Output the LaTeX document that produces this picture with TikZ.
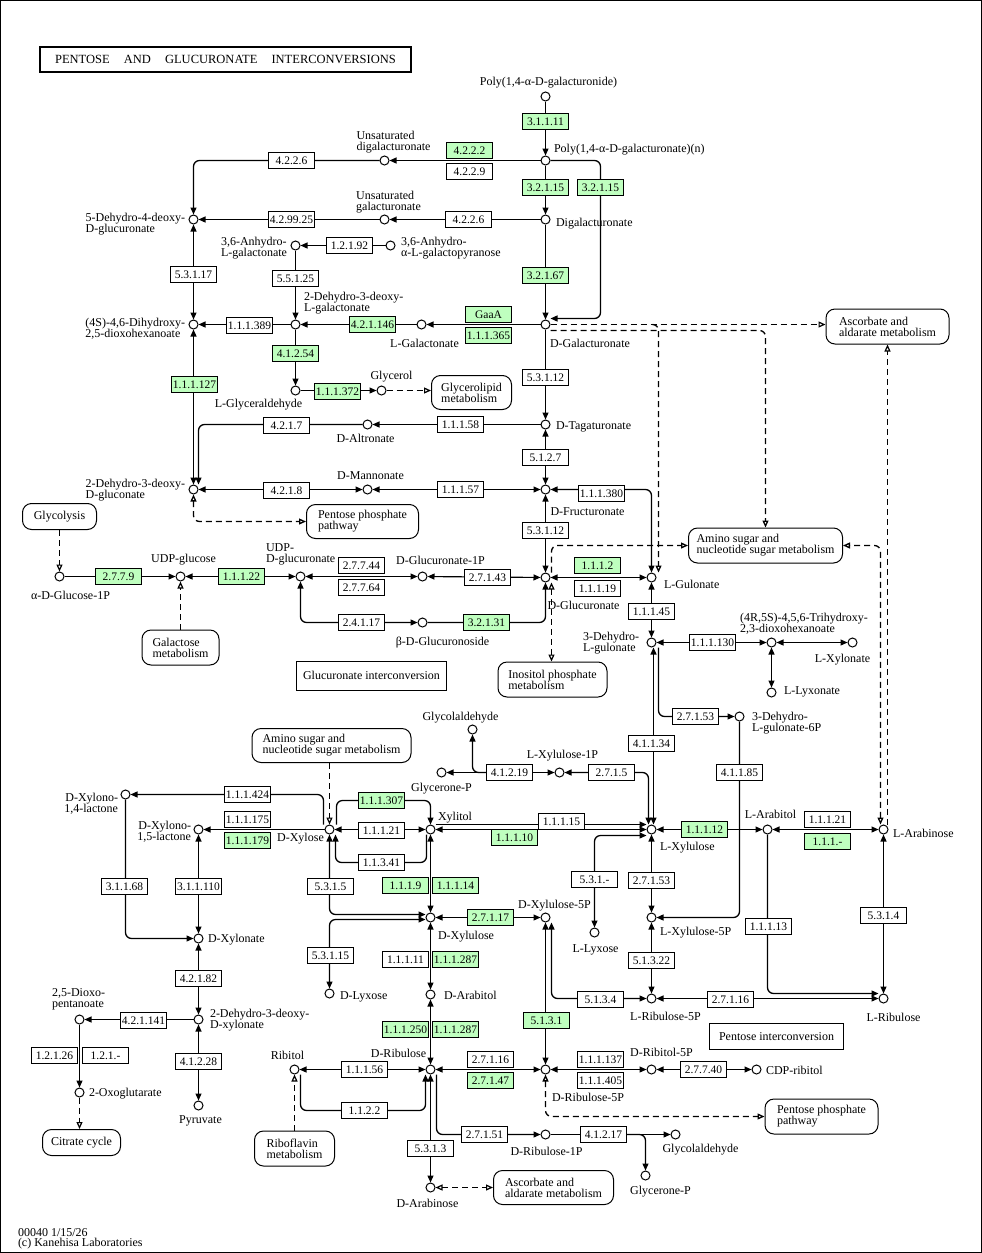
\documentclass[tikz,border=0pt]{standalone}
\usepackage{fontspec}
\setmainfont{Liberation Serif}
\usetikzlibrary{arrows.meta,backgrounds}
\definecolor{ecgreen}{HTML}{BFFFBF}
\newcommand\kglab{\fontsize{12}{11}\selectfont}
\newcommand\kgec{\fontsize{11.5}{11}\selectfont}
\begin{document}
\begin{tikzpicture}[x=1pt,y=-1pt,line width=1pt,
  >={Triangle[length=7pt,width=6pt]},
  cpd/.style={circle,draw,fill=white,minimum size=9pt,inner sep=0pt},
  ec/.style={draw,fill=white,minimum width=46pt,minimum height=16pt,inner sep=0pt,font=\kgec,line width=0.9pt},
  ecg/.style={ec,fill=ecgreen},
  lab/.style={font=\kglab,inner sep=0pt,align=left},
  mbox/.style={draw,rounded corners=9pt,fill=white,font=\kglab,align=left,inner sep=0pt},
  tbox/.style={draw,fill=white,font=\kglab,inner sep=0pt},
  fw/.style={->,line width=1.15pt},
  bi/.style={<->,line width=1.15pt},
  bw/.style={<-,line width=1.15pt},
  dsh/.style={dash pattern=on 6pt off 4pt,line width=1.2pt},
  dfw/.style={dsh,-{Triangle[open,length=7pt,width=6pt]}},
  dbi/.style={dsh,{Triangle[open,length=7pt,width=6pt]}-{Triangle[open,length=7pt,width=6pt]}},
  rc/.style={rounded corners=6pt,line width=1.3pt}]
\useasboundingbox (0,0) rectangle (982,1253);
\draw (0.5,0.5) rectangle (981.5,1252.5);
\begin{scope}[shift={(0.5,0.5)}]
% ---------- compounds ----------
\node[cpd] (pgn) at (545,96) {};
\node[cpd] (pn) at (545,160) {};
\node[cpd] (dga) at (545,219) {};
\node[cpd] (dgal) at (545,324) {};
\node[cpd] (udg) at (384,160) {};
\node[cpd] (uga) at (384,219) {};
\node[cpd] (dhg) at (193,219) {};
\node[cpd] (anhg) at (295,245) {};
\node[cpd] (anhp) at (390,245) {};
\node[cpd] (ddlg) at (295,324) {};
\node[cpd] (lgal) at (421,324) {};
\node[cpd] (dhdo) at (193,324) {};
\node[cpd] (lgla) at (295,390) {};
\node[cpd] (gly) at (381,390) {};
\node[cpd] (dalt) at (367,424) {};
\node[cpd] (dtag) at (545,424) {};
\node[cpd] (ddgc) at (193,489) {};
\node[cpd] (dman) at (367,489) {};
\node[cpd] (dfru) at (545,489) {};
\node[cpd] (dglc) at (545,577) {};
\node[cpd] (agp) at (59,576) {};
\node[cpd] (udpg) at (180,576) {};
\node[cpd] (udpga) at (300,576) {};
\node[cpd] (dg1p) at (422,576) {};
\node[cpd] (bdg) at (422,622) {};
\node[cpd] (lgul) at (651,577) {};
\node[cpd] (dhlg) at (651,642) {};
\node[cpd] (thd) at (771,642) {};
\node[cpd] (lxyn) at (852,642) {};
\node[cpd] (llyx) at (771,692) {};
\node[cpd] (dhg6p) at (739,716) {};
\node[cpd] (glyald1) at (472,729) {};
\node[cpd] (glp1) at (441,772) {};
\node[cpd] (lx1p) at (559,772) {};
\node[cpd] (dxyl) at (329,829) {};
\node[cpd] (xyl) at (430,829) {};
\node[cpd] (lxu) at (651,829) {};
\node[cpd] (lara) at (767,829) {};
\node[cpd] (larb) at (883,829) {};
\node[cpd] (dx14) at (125,794) {};
\node[cpd] (dx15) at (198,829) {};
\node[cpd] (dxn) at (198,938) {};
\node[cpd] (dxu) at (430,917) {};
\node[cpd] (dxu5p) at (545,917) {};
\node[cpd] (llyxo) at (594,932) {};
\node[cpd] (lxu5p) at (651,917) {};
\node[cpd] (dlyx) at (329,993) {};
\node[cpd] (dara) at (430,994) {};
\node[cpd] (lru5p) at (651,998) {};
\node[cpd] (lrib) at (883,998) {};
\node[cpd] (ddx) at (198,1019) {};
\node[cpd] (dop) at (79,1019) {};
\node[cpd] (oxg) at (79,1092) {};
\node[cpd] (pyr) at (198,1105) {};
\node[cpd] (drib) at (430,1069) {};
\node[cpd] (rbt) at (294,1069) {};
\node[cpd] (dru5p) at (545,1069) {};
\node[cpd] (drt5p) at (651,1069) {};
\node[cpd] (cdp) at (756,1069) {};
\node[cpd] (dru1p) at (545,1134) {};
\node[cpd] (glyald2) at (675,1134) {};
\node[cpd] (glp2) at (645,1175) {};
\node[cpd] (darab) at (430,1187) {};
\coordinate (dbr) at (652,324);

% ---------- map boxes ----------
\node[mbox,minimum width=74pt,minimum height=26pt] (glyc) at (59,516) {Glycolysis};
\node[mbox,minimum width=77pt,minimum height=35pt] (galm) at (180,647) {Galactose\\metabolism};
\node[mbox,minimum width=112pt,minimum height=34pt] (ppp1) at (362,521) {Pentose phosphate\\pathway};
\node[mbox,minimum width=80pt,minimum height=34pt] (glm) at (471,392) {Glycerolipid\\metabolism};
\node[mbox,minimum width=123pt,minimum height=35pt] (asc1) at (887,326) {Ascorbate and\\aldarate metabolism};
\node[mbox,minimum width=154pt,minimum height=35pt] (amn1) at (765,545) {Amino sugar and\\nucleotide sugar metabolism};
\node[mbox,minimum width=109pt,minimum height=35pt] (inos) at (552,679) {Inositol phosphate\\metabolism};
\node[mbox,minimum width=159pt,minimum height=34pt] (amn2) at (331,745) {Amino sugar and\\nucleotide sugar metabolism};
\node[mbox,minimum width=78pt,minimum height=26pt] (citr) at (81,1142) {Citrate cycle};
\node[mbox,minimum width=80pt,minimum height=35pt] (ribo) at (294,1148) {Riboflavin\\metabolism};
\node[mbox,minimum width=120pt,minimum height=34pt] (asc2) at (553,1187) {Ascorbate and\\aldarate metabolism};
\node[mbox,minimum width=113pt,minimum height=35pt] (ppp2) at (821,1116) {Pentose phosphate\\pathway};
\node[draw,line width=1.8pt,minimum width=371pt,minimum height=25pt,inner sep=0pt,font=\fontsize{12.5}{12}\selectfont] (title) at (225,59) {PENTOSE\hspace{11pt} AND\hspace{11pt} GLUCURONATE\hspace{11pt} INTERCONVERSIONS};
\node[tbox,minimum width=150pt,minimum height=29pt] (gicb) at (371,675) {Glucuronate interconversion};
\node[tbox,minimum width=134pt,minimum height=26pt] (picb) at (776,1036) {Pentose interconversion};

% ---------- EC boxes ----------
\node[ecg] (e31111) at (545,121) {3.1.1.11};
\node[ecg] (e4222) at (469,150) {4.2.2.2};
\node[ec] (e4229) at (469,171) {4.2.2.9};
\node[ecg] (e3215a) at (545,187) {3.2.1.15};
\node[ecg] (e3215b) at (600,187) {3.2.1.15};
\node[ec] (e4226a) at (291,160) {4.2.2.6};
\node[ec] (e4226b) at (468,219) {4.2.2.6};
\node[ec] (e429925) at (291,219) {4.2.99.25};
\node[ec] (e12192) at (349,245) {1.2.1.92};
\node[ecg] (e32167) at (545,275) {3.2.1.67};
\node[ec] (e53117) at (193,274) {5.3.1.17};
\node[ec] (e55125) at (295,278) {5.5.1.25};
\node[ecg] (egaa) at (488,314) {GaaA};
\node[ecg] (e111365) at (488,335) {1.1.1.365};
\node[ecg] (e421146) at (372,324) {4.2.1.146};
\node[ec] (e111389) at (249,325) {1.1.1.389};
\node[ecg] (e41254) at (295,353) {4.1.2.54};
\node[ec] (e53112a) at (545,377) {5.3.1.12};
\node[ecg] (e111127) at (194,384) {1.1.1.127};
\node[ecg] (e111372) at (337,391) {1.1.1.372};
\node[ec] (e4217) at (286,425) {4.2.1.7};
\node[ec] (e11158) at (460,424) {1.1.1.58};
\node[ec] (e5127) at (545,457) {5.1.2.7};
\node[ec] (e4218) at (286,490) {4.2.1.8};
\node[ec] (e11157) at (460,489) {1.1.1.57};
\node[ec] (e111380) at (601,493) {1.1.1.380};
\node[ec] (e53112b) at (545,530) {5.3.1.12};
\node[ecg] (e2779) at (118,576) {2.7.7.9};
\node[ecg] (e11122) at (241,576) {1.1.1.22};
\node[ec] (e27744) at (361,565) {2.7.7.44};
\node[ec] (e27764) at (361,587) {2.7.7.64};
\node[ec] (e27143) at (487,577) {2.7.1.43};
\node[ec] (e24117) at (361,622) {2.4.1.17};
\node[ecg] (e32131) at (486,622) {3.2.1.31};
\node[ecg] (e1112) at (597,565) {1.1.1.2};
\node[ec] (e11119) at (597,588) {1.1.1.19};
\node[ec] (e11145) at (651,611) {1.1.1.45};
\node[ec] (e111130) at (712,642) {1.1.1.130};
\node[ec] (e27153a) at (695,716) {2.7.1.53};
\node[ec] (e41134) at (651,743) {4.1.1.34};
\node[ec] (e41185) at (739,772) {4.1.1.85};
\node[ec] (e41219) at (509,772) {4.1.2.19};
\node[ec] (e2715) at (611,772) {2.7.1.5};
\node[ec] (e111424) at (247,794) {1.1.1.424};
\node[ec] (e111175) at (247,819) {1.1.1.175};
\node[ecg] (e111179) at (247,840) {1.1.1.179};
\node[ecg] (e111307) at (381,800) {1.1.1.307};
\node[ec] (e11121a) at (381,830) {1.1.1.21};
\node[ec] (e11341) at (381,862) {1.1.3.41};
\node[ec] (e11115) at (561,821) {1.1.1.15};
\node[ecg] (e11110) at (514,837) {1.1.1.10};
\node[ecg] (e11112) at (704,829) {1.1.1.12};
\node[ec] (e11121b) at (827,819) {1.1.1.21};
\node[ecg] (e111d) at (827,841) {1.1.1.-};
\node[ec] (e31168) at (124,886) {3.1.1.68};
\node[ec] (e311110) at (198,886) {3.1.1.110};
\node[ec] (e5315) at (330,886) {5.3.1.5};
\node[ecg] (e1119) at (405,885) {1.1.1.9};
\node[ecg] (e11114) at (455,885) {1.1.1.14};
\node[ec] (e531d) at (594,879) {5.3.1.-};
\node[ec] (e27153b) at (651,880) {2.7.1.53};
\node[ecg] (e27117) at (490,917) {2.7.1.17};
\node[ec] (e11113) at (768,926) {1.1.1.13};
\node[ec] (e5314) at (883,915) {5.3.1.4};
\node[ec] (e53115) at (330,955) {5.3.1.15};
\node[ec] (e11111) at (405,959) {1.1.1.11};
\node[ecg] (e111287a) at (455,959) {1.1.1.287};
\node[ec] (e51322) at (651,960) {5.1.3.22};
\node[ec] (e42182) at (198,978) {4.2.1.82};
\node[ec] (e5134) at (600,999) {5.1.3.4};
\node[ec] (e27116a) at (730,999) {2.7.1.16};
\node[ec] (e421141) at (143,1020) {4.2.1.141};
\node[ecg] (e5131) at (546,1020) {5.1.3.1};
\node[ecg] (e111250) at (405,1029) {1.1.1.250};
\node[ecg] (e111287b) at (455,1029) {1.1.1.287};
\node[ec] (e12126) at (54,1055) {1.2.1.26};
\node[ec] (e121d) at (105,1055) {1.2.1.-};
\node[ec] (e27116b) at (490,1059) {2.7.1.16};
\node[ecg] (e27147) at (490,1080) {2.7.1.47};
\node[ec] (e111137) at (600,1059) {1.1.1.137};
\node[ec] (e111405) at (600,1080) {1.1.1.405};
\node[ec] (e27740) at (703,1069) {2.7.7.40};
\node[ec] (e41228) at (198,1061) {4.1.2.28};
\node[ec] (e11156) at (364,1069) {1.1.1.56};
\node[ec] (e1122) at (364,1110) {1.1.2.2};
\node[ec] (e27151) at (484,1134) {2.7.1.51};
\node[ec] (e41217) at (603,1134) {4.1.2.17};
\node[ec] (e5313) at (430,1148) {5.3.1.3};

% ---------- labels ----------
\node[lab] (t1) at (548,82) {Poly(1,4-α-D-galacturonide)};
\node[lab,anchor=west] (t2) at (553,149) {Poly(1,4-α-D-galacturonate)(n)};
\node[lab] (t3) at (393,142) {Unsaturated\\digalacturonate};
\node[lab] (t4) at (388,202) {Unsaturated\\galacturonate};
\node[lab,anchor=west] (t5) at (555,223) {Digalacturonate};
\node[lab,anchor=east] (t6) at (185,224) {5-Dehydro-4-deoxy-\\D-glucuronate};
\node[lab,anchor=east] (t7) at (287,248) {3,6-Anhydro-\\L-galactonate};
\node[lab,anchor=west] (t8) at (400,248) {3,6-Anhydro-\\α-L-galactopyranose};
\node[lab,anchor=west] (t9) at (303,303) {2-Dehydro-3-deoxy-\\L-galactonate};
\node[lab,anchor=east] (t10) at (185,328) {(4S)-4,6-Dihydroxy-\\2,5-dioxohexanoate};
\node[lab] (t11) at (424,343) {L-Galactonate};
\node[lab,anchor=west] (t12) at (549,343) {D-Galacturonate};
\node[lab] (t13) at (258,404) {L-Glyceraldehyde};
\node[lab] (t14) at (391,376) {Glycerol};
\node[lab] (t15) at (365,438) {D-Altronate};
\node[lab,anchor=west] (t16) at (555,426) {D-Tagaturonate};
\node[lab] (t17) at (370,475) {D-Mannonate};
\node[lab,anchor=east] (t18) at (185,490) {2-Dehydro-3-deoxy-\\D-gluconate};
\node[lab] (t19) at (587,511) {D-Fructuronate};
\node[lab] (t20) at (183,559) {UDP-glucose};
\node[lab,anchor=west] (t21) at (265,554) {UDP-\\D-glucuronate};
\node[lab] (t22) at (440,560) {D-Glucuronate-1P};
\node[lab] (t23) at (70,595) {α-D-Glucose-1P};
\node[lab] (t24) at (442,642) {β-D-Glucuronoside};
\node[lab] (t25) at (583,605) {D-Glucuronate};
\node[lab,anchor=west] (t26) at (663,584) {L-Gulonate};
\node[lab,anchor=east] (t27) at (639,643) {3-Dehydro-\\L-gulonate};
\node[lab,anchor=west] (t28) at (739,623) {(4R,5S)-4,5,6-Trihydroxy-\\2,3-dioxohexanoate};
\node[lab] (t29) at (842,659) {L-Xylonate};
\node[lab,anchor=west] (t30) at (783,691) {L-Lyxonate};
\node[lab,anchor=west] (t31) at (751,723) {3-Dehydro-\\L-gulonate-6P};
\node[lab] (t32) at (460,717) {Glycolaldehyde};
\node[lab] (t33) at (562,755) {L-Xylulose-1P};
\node[lab] (t34) at (441,788) {Glycerone-P};
\node[lab,anchor=east,align=right] (t35) at (118,803) {D-Xylono-\\1,4-lactone};
\node[lab,anchor=east,align=right] (t36) at (191,831) {D-Xylono-\\1,5-lactone};
\node[lab] (t37) at (300,838) {D-Xylose};
\node[lab,anchor=west] (t38) at (437,817) {Xylitol};
\node[lab,anchor=west] (t39) at (659,847) {L-Xylulose};
\node[lab] (t40) at (770,814) {L-Arabitol};
\node[lab,anchor=west] (t41) at (892,833) {L-Arabinose};
\node[lab,anchor=west] (t42) at (207,939) {D-Xylonate};
\node[lab,anchor=west] (t43) at (437,936) {D-Xylulose};
\node[lab] (t44) at (554,905) {D-Xylulose-5P};
\node[lab] (t45) at (595,949) {L-Lyxose};
\node[lab,anchor=west] (t46) at (659,932) {L-Xylulose-5P};
\node[lab,anchor=west] (t47) at (339,996) {D-Lyxose};
\node[lab,anchor=west] (t48) at (443,995) {D-Arabitol};
\node[lab] (t49) at (665,1016) {L-Ribulose-5P};
\node[lab] (t50) at (893,1017) {L-Ribulose};
\node[lab] (t51) at (78,999) {2,5-Dioxo-\\pentanoate};
\node[lab,anchor=west] (t52) at (209,1020) {2-Dehydro-3-deoxy-\\D-xylonate};
\node[lab,anchor=west] (t53) at (88,1093) {2-Oxoglutarate};
\node[lab] (t54) at (200,1120) {Pyruvate};
\node[lab] (t55) at (287,1055) {Ribitol};
\node[lab] (t56) at (398,1053) {D-Ribulose};
\node[lab] (t57) at (661,1052) {D-Ribitol-5P};
\node[lab,anchor=west] (t58) at (765,1070) {CDP-ribitol};
\node[lab,anchor=west] (t59) at (551,1097) {D-Ribulose-5P};
\node[lab] (t60) at (546,1151) {D-Ribulose-1P};
\node[lab] (t61) at (700,1149) {Glycolaldehyde};
\node[lab] (t62) at (660,1191) {Glycerone-P};
\node[lab] (t63) at (427,1203) {D-Arabinose};
\node[lab,anchor=west] (t64) at (17,1232) {00040 1/15/26};
\node[lab,anchor=west] (t65) at (17,1243) {(c) Kanehisa Laboratories};

% ---------- connectors ----------
\begin{scope}[on background layer]
\draw[fw] (pgn) -- (pn);
\draw[fw] (pn) -- (udg);
\draw[fw] (pn) -- (dga);
\draw[fw,rc] (pn) -| (e3215b.center) |- ([yshift=6pt]dgal.east);
\draw[fw,rc] (udg) -| (dhg);
\draw[fw] (dga) -- (uga);
\draw[fw] (uga) -- (dhg);
\draw[fw] (anhp) -- (anhg);
\draw[fw] (anhg) -- (ddlg);
\draw[fw] (dga) -- (dgal);
\draw[fw] (dgal) -- (lgal);
\draw[fw] (lgal) -- (ddlg);
\draw[fw] (ddlg) -- (dhdo);
\draw[bi] (dhg) -- (dhdo);
\draw[bi] (dhdo) -- (ddgc);
\draw[fw] (ddlg) -- (lgla);
\draw[fw] (lgla) -- (gly);
\draw[dfw] (gly) -- (gly -| glm.west);
\draw[fw] (dgal) -- (dtag);
\draw[fw] (dtag) -- (dalt);
\draw[fw,rc] (dalt) -| ([xshift=5pt]ddgc.north);
\draw[bi] (dtag) -- (dfru);
\draw[bi] (dfru) -- (dman);
\draw[bi] (dman) -- (ddgc);
\draw[bi,rc] (dfru) -| (lgul);
\draw[bi] (dfru) -- (dglc);
\draw[dbi,rc] (ddgc) |- (ppp1);
\draw[dfw] (glyc) -- (agp);
\draw[fw] (agp) -- (udpg);
\draw[dfw] (galm) -- (udpg);
\draw[bi] (udpg) -- (udpga);
\draw[bi] (udpga) -- (dg1p);
\draw[bi] (dg1p) -- (dglc);
\draw[bi,rc] (udpga) |- (bdg);
\draw[fw,rc] (bdg) -| (dglc);
\draw[bi] (dglc) -- (lgul);
\draw[dfw] (dgal) -- (dgal -| asc1.west);
\draw[dfw,rc] (dbr) -| ([xshift=7pt]lgul.north);
\draw[dfw,rc] ([yshift=-6pt]dgal.east) -| (amn1.north);
\draw[dfw,rc] ([xshift=6pt]dglc.north) |- (amn1.west);
\draw[dbi] ([xshift=6pt]dglc.south) -- ([xshift=6pt]dglc.south |- inos.north);
\draw[dbi,rc] ([xshift=-3pt]larb.north) |- (amn1.east);
\draw[dfw] ([xshift=4pt]larb.north) -- ([xshift=4pt]larb.north |- asc1.south);
\draw[bi] (lgul) -- (dhlg);
\draw[bi] (dhlg) -- (thd);
\draw[bi] (thd) -- (lxyn);
\draw[bi] (thd) -- (llyx);
\draw[fw,rc] ([xshift=7pt]dhlg.south) |- (dhg6p);
\draw[fw,rc] (dhg6p) |- (lxu5p);
\draw[bi] ([xshift=2pt]dhlg.south) -- ([xshift=2pt]lxu.north);
\draw[bi,rc] (lx1p) -| ([xshift=-3pt]lxu.north);
\draw[bi] (glp1) -- (lx1p);
\draw[bw,rc] (glyald1) |- (e41219.west);
\draw[fw] ([yshift=5pt]xyl.east) -- ([yshift=5pt]xyl.east -| lxu.west);
\draw[bi] (xyl) -- (lxu);
\draw[bi,rc] (llyxo) |- ([yshift=-6pt]lxu.west);
\draw[bi] (lxu) -- (lara);
\draw[bi] (lara) -- (larb);
\draw[fw,rc] (lara) |- ([yshift=5pt]lrib.west);
\draw[bi] (larb) -- (lrib);
\draw[bi] (lru5p) -- (lrib);
\draw[bi] (lxu) -- (lxu5p);
\draw[bi] (lxu5p) -- (lru5p);
\draw[bi,rc] ([xshift=6pt]dxu5p.south) |- (lru5p);
\draw[bi] (dxu5p) -- (dru5p);
\draw[bi] (dxyl) -- (xyl);
\draw[fw,rc] ([xshift=7pt]dxyl.north) |- (e111307.center) -| (xyl);
\draw[fw,rc] ([xshift=-4pt]xyl.south) |- (e11341.center) -| ([xshift=6pt]dxyl.south);
\draw[bi] (xyl) -- (dxu);
\draw[bi,rc] (dxyl) |- ([yshift=3pt]dxu.west);
\draw[bi,rc] ([yshift=-2pt]dxu.west) -| (dlyx);
\draw[bi] (dxu) -- (dxu5p);
\draw[bi] (dxu) -- (dara);
\draw[bi] (dara) -- (drib);
\draw[bi] (drib) -- (dru5p);
\draw[bi] (dru5p) -- (drt5p);
\draw[bi] (drt5p) -- (cdp);
\draw[dbi,rc] (dru5p) |- (ppp2);
\draw[bi] (drib) -- (rbt);
\draw[fw,rc] ([xshift=6pt]rbt.south) |- (e1122.center) -| ([xshift=-5pt]drib.south);
\draw[dfw] (ribo) -- (rbt);
\draw[bi] (drib) -- (darab);
\draw[fw,rc] ([xshift=6pt]drib.south) |- (dru1p);
\draw[dbi] (darab) -- (asc2);
\draw[fw] (dru1p) -- (glyald2);
\draw[fw,rc] (e41217.east) -| (glp2);
\draw[fw] (ddx) -- (dop);
\draw[bi] (dxn) -- (ddx);
\draw[bi] (ddx) -- (pyr);
\draw[fw] (dop) -- (oxg);
\draw[dfw] (oxg) -- (oxg |- citr.north);
\draw[bi] (dx15) -- (dxn);
\draw[fw,rc] (dx14) |- (dxn);
\draw[fw] (dxyl) -- (dx15);
\draw[fw,rc] ([xshift=-6pt]dxyl.north) |- (dx14);
\draw[dfw] (dxyl |- amn2.south) -- (dxyl);
\end{scope}
\end{scope}
\end{tikzpicture}
\end{document}
